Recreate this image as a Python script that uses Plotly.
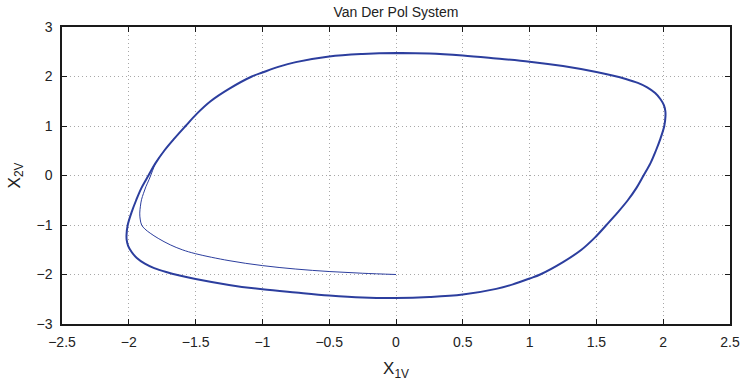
import plotly.graph_objects as go

# Phase-plane trajectory of the Van der Pol oscillator (x1 = position, x2 = velocity)

# Settled limit cycle, traversed clockwise starting from the top crossing of x1 = 0
cycle_x1 = [0.0, 0.25, 0.5, 0.75, 1.0, 1.25, 1.5, 1.62, 1.72, 1.81, 1.88, 1.94,
            1.98, 2.005, 2.016, 2.017, 2.008, 1.98, 1.945, 1.905, 1.853, 1.80,
            1.735, 1.658, 1.575, 1.49, 1.388, 1.25, 1.079, 1.0, 0.875, 0.75,
            0.5, 0.25, 0.0, -0.25, -0.5, -0.75, -1.0, -1.25, -1.5, -1.62,
            -1.72, -1.81, -1.88, -1.94, -1.98, -2.005, -2.016, -2.017, -2.008,
            -1.98, -1.945, -1.905, -1.853, -1.80, -1.735, -1.658, -1.575,
            -1.49, -1.388, -1.25, -1.079, -1.0, -0.875, -0.75, -0.5, -0.25,
            0.0, 0.25, 0.5]
cycle_x2 = [2.475, 2.465, 2.425, 2.365, 2.30, 2.21, 2.09, 2.02, 1.95, 1.87, 1.78,
            1.665, 1.54, 1.42, 1.30, 1.20, 1.0, 0.75, 0.5, 0.25, 0.0, -0.25,
            -0.5, -0.75, -1.0, -1.25, -1.5, -1.75, -2.0, -2.08, -2.2, -2.29,
            -2.405, -2.455, -2.475, -2.465, -2.425, -2.365, -2.30, -2.21, -2.09,
            -2.02, -1.95, -1.87, -1.78, -1.665, -1.54, -1.42, -1.30, -1.20,
            -1.0, -0.75, -0.5, -0.25, 0.0, 0.25, 0.5, 0.75, 1.0, 1.25, 1.5,
            1.75, 2.0, 2.08, 2.2, 2.29, 2.405, 2.455, 2.475, 2.465, 2.425]

# Transient from the initial state (0, -2) until it joins the cycle
transient_x1 = [0.0, -0.25, -0.5, -0.75, -1.0, -1.25, -1.5, -1.60, -1.69,
                -1.78, -1.84, -1.88, -1.904, -1.915, -1.918, -1.913, -1.905,
                -1.89, -1.872, -1.848, -1.822, -1.80, -1.735, -1.658]
transient_x2 = [-2.0, -1.975, -1.94, -1.89, -1.82, -1.72, -1.58, -1.50, -1.40,
                -1.27, -1.165, -1.08, -1.0, -0.88, -0.76, -0.62, -0.49,
                -0.36, -0.226, -0.08, 0.1, 0.25, 0.5, 0.75]

x_ticks = [-2.5, -2, -1.5, -1, -0.5, 0, 0.5, 1, 1.5, 2, 2.5]
y_ticks = [-3, -2, -1, 0, 1, 2, 3]

line_color = "rgb(44,62,158)"
font_family = "Liberation Sans, Arial, sans-serif"

fig = go.Figure()
fig.add_trace(go.Scatter(
    x=transient_x1, y=transient_x2, mode="lines",
    line=dict(color=line_color, width=1, shape="spline", smoothing=1.0),
    showlegend=False, hoverinfo="skip"))
fig.add_trace(go.Scatter(
    x=cycle_x1, y=cycle_x2, mode="lines",
    line=dict(color=line_color, width=2, shape="spline", smoothing=1.0),
    showlegend=False, hoverinfo="skip"))

axis_common = dict(
    showline=True, linecolor="#1a1a1a", linewidth=1.5, mirror="ticks",
    ticks="inside", ticklen=5, tickwidth=1.2, tickcolor="#1a1a1a",
    showgrid=True, gridcolor="#a8a8a8", griddash="1px,3px", gridwidth=1,
    zeroline=False, automargin=False,
    tickfont=dict(family=font_family, size=14, color="#222"),
)

fig.update_layout(
    width=740, height=383,
    margin=dict(l=62, r=10, t=27, b=59),
    paper_bgcolor="white", plot_bgcolor="white",
    title=dict(text="Van Der Pol System", x=0.535, xanchor="center", y=0.968,
               yanchor="middle",
               font=dict(family=font_family, size=14, color="#222")),
    xaxis=dict(range=[-2.5, 2.5], tickvals=x_ticks, ticklabelstandoff=4,
               title=dict(text="X<sub>1V</sub>", standoff=14,
                          font=dict(family=font_family, size=17, color="#222")),
               **axis_common),
    yaxis=dict(range=[-3, 3], tickvals=y_ticks, ticklabelstandoff=5,
               title=dict(text="X<sub>2V</sub>", standoff=12,
                          font=dict(family=font_family, size=17, color="#222")),
               **axis_common),
)

fig.write_html("out.html")
